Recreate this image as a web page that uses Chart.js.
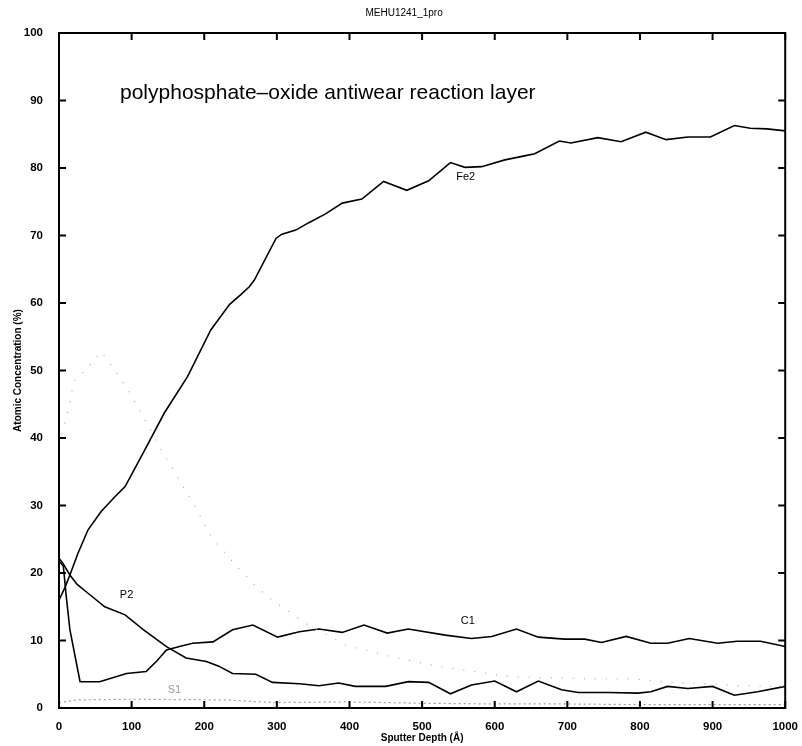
<!DOCTYPE html>
<html>
<head>
<meta charset="utf-8">
<script src="https://cdn.jsdelivr.net/npm/chart.js@4.4.1/dist/chart.umd.min.js"></script>
<style>
html,body{margin:0;padding:0;background:#fff;}
#wrap{width:802px;height:746px;position:relative;}
</style>
</head>
<body>
<div id="wrap"><canvas id="c" width="802" height="746"></canvas></div>
<script>
// ---- data ----
const chartTitle = "MEHU1241_1pro";
const annotationText = "polyphosphate\u2013oxide antiwear reaction layer";
const xTitle = "Sputter Depth (\u00c5)";
const yTitle = "Atomic Concentration (%)";
const xTickValues = [0,100,200,300,400,500,600,700,800,900,1000];
const yTickValues = [0,10,20,30,40,50,60,70,80,90,100];

const fe2Depth = [0,8,15,26,40,58,77,91,118,145,177,209,235,250,262,269,299,307,326,344,367,390,417,447,479,509,539,559,582,614,641,655,689,705,742,774,808,836,866,897,930,952,975,1000];
const fe2Values = [16,17.8,19.7,22.9,26.4,29.1,31.3,32.8,38.2,43.7,49.1,56,59.8,61.2,62.4,63.4,69.6,70.2,70.8,71.9,73.2,74.8,75.4,78,76.7,78.1,80.8,80.1,80.2,81.2,81.8,82.1,84,83.7,84.5,83.9,85.3,84.2,84.6,84.6,86.3,85.9,85.8,85.5];

const c1Depth = [0,6,10,15,29,56,93,120,135,148,166,184,212,239,267,301,331,358,390,420,452,481,532,568,596,630,660,696,724,747,781,815,838,868,907,934,966,1000];
const c1Values = [21.8,21,16.5,11.6,3.9,3.9,5.1,5.4,7,8.6,9.1,9.6,9.8,11.6,12.3,10.5,11.3,11.7,11.2,12.3,11.1,11.7,10.8,10.3,10.6,11.7,10.5,10.2,10.2,9.7,10.6,9.6,9.6,10.3,9.6,9.9,9.9,9.1];

const p2Depth = [0,5,15,25,40,63,91,116,148,175,203,220,239,271,294,331,358,385,408,450,481,509,539,568,600,630,660,692,715,756,797,815,838,866,900,930,962,1000];
const p2Values = [22.2,21.5,19.7,18.3,17,15,13.8,11.6,9.1,7.4,6.9,6.2,5.1,5.0,3.8,3.6,3.3,3.7,3.2,3.2,3.9,3.8,2.1,3.4,4.0,2.4,4.0,2.7,2.3,2.3,2.2,2.4,3.2,2.9,3.2,1.9,2.4,3.2];

const o1Depth = [0,7,13,17,20,40,58,65,90,116,143,152,175,184,207,215,250,267,287,340,395,420,458,520,591,614,660,742,788,856,893,938,1000];
const o1Values = [39,41.7,44.4,46.4,48.3,50.5,52.8,51.8,48,43.2,37.7,36.3,32,30.6,25.9,24.6,20.4,18.5,16.5,12.5,9.3,8.6,7.6,6.2,5.1,4.7,4.5,4.3,4.3,3.7,3.6,3.3,3.2];

const s1Depth = [0,25,100,230,260,300,400,500,600,700,800,900,1000];
const s1Values = [0.8,1.2,1.3,1.2,1.0,0.8,0.9,0.7,0.6,0.6,0.5,0.5,0.5];

// series labels placed in data space
const seriesLabels = [
  {text:"Fe2", x:560, y:78.6},
  {text:"P2",  x:93,  y:16.8},
  {text:"C1",  x:563, y:12.9},
  {text:"S1",  x:159, y:2.6, gray:true}
];

function pts(xs, ys){ return xs.map((x,i)=>({x:x, y:ys[i]})); }

const TICK_FONT = {family:"'Liberation Sans', Arial, sans-serif", size:11.5, weight:'bold'};

const framePlugin = {
  id:'frame',
  afterDraw(chart){
    const ctx = chart.ctx, a = chart.chartArea;
    const xs = chart.scales.x, ys = chart.scales.y;
    ctx.save();
    ctx.strokeStyle = '#000';
    ctx.lineWidth = 2;
    ctx.strokeRect(a.left, a.top, a.right - a.left, a.bottom - a.top);
    const tl = 7;
    ctx.beginPath();
    xTickValues.forEach(v=>{
      const px = xs.getPixelForValue(v);
      ctx.moveTo(px, a.bottom); ctx.lineTo(px, a.bottom - tl);
      ctx.moveTo(px, a.top); ctx.lineTo(px, a.top + tl);
    });
    yTickValues.forEach(v=>{
      const py = ys.getPixelForValue(v);
      ctx.moveTo(a.left, py); ctx.lineTo(a.left + tl, py);
      ctx.moveTo(a.right, py); ctx.lineTo(a.right - tl, py);
    });
    ctx.stroke();

    // chart title
    ctx.fillStyle = '#000';
    ctx.font = "10px 'Liberation Sans', Arial, sans-serif";
    ctx.textAlign = 'center';
    ctx.textBaseline = 'middle';
    ctx.fillText(chartTitle, (a.left + a.right)/2 - 18, 13);

    // annotation
    ctx.font = "21px 'Liberation Sans', Arial, sans-serif";
    ctx.textAlign = 'left';
    ctx.fillText(annotationText, xs.getPixelForValue(84), ys.getPixelForValue(91.1));

    // series labels
    ctx.font = "11px 'Liberation Sans', Arial, sans-serif";
    ctx.textAlign = 'center';
    seriesLabels.forEach(l=>{
      ctx.fillStyle = l.gray ? '#999' : '#000';
      ctx.fillText(l.text, xs.getPixelForValue(l.x), ys.getPixelForValue(l.y));
    });
    ctx.restore();
  }
};

const black = {borderColor:'#000', borderWidth:1.6, pointRadius:0, tension:0, fill:false};

new Chart(document.getElementById('c'), {
  type:'line',
  data:{
    datasets:[
      Object.assign({label:'O1', data:pts(o1Depth,o1Values)}, {borderColor:'#a8a8a8', borderWidth:1.2, borderDash:[1,10], pointRadius:0, tension:0, fill:false}),
      Object.assign({label:'S1', data:pts(s1Depth,s1Values)}, {borderColor:'#a0a0a0', borderWidth:1.2, borderDash:[2,3], pointRadius:0, tension:0, fill:false}),
      Object.assign({label:'Fe2', data:pts(fe2Depth,fe2Values)}, black),
      Object.assign({label:'C1', data:pts(c1Depth,c1Values)}, black),
      Object.assign({label:'P2', data:pts(p2Depth,p2Values)}, black)
    ]
  },
  options:{
    responsive:false,
    animation:false,
    layout:{padding:{top:33, right:15, left:0, bottom:0}},
    plugins:{legend:{display:false}, title:{display:false}, tooltip:{enabled:false}},
    scales:{
      x:{
        type:'linear', min:0, max:1000,
        afterFit(s){ s.height = 38; },
        afterBuildTicks(s){ s.ticks = xTickValues.map(v=>({value:v})); },
        grid:{display:false}, border:{display:false},
        ticks:{color:'#000', font:TICK_FONT, padding:4, maxRotation:0, callback:(v)=>String(v)},
        title:{display:true, text:xTitle, color:'#000', font:{family:"'Liberation Sans', Arial, sans-serif", size:10, weight:'bold'}, padding:{top:0,bottom:2}}
      },
      y:{
        min:0, max:100,
        afterFit(s){ s.width = 59; },
        afterBuildTicks(s){ s.ticks = yTickValues.map(v=>({value:v})); },
        grid:{display:false}, border:{display:false},
        ticks:{color:'#000', font:TICK_FONT, padding:8, callback:(v)=>String(v)},
        title:{display:true, text:yTitle, color:'#000', font:{family:"'Liberation Sans', Arial, sans-serif", size:10, weight:'bold'}, padding:{top:12,bottom:0}}
      }
    }
  },
  plugins:[framePlugin]
});
</script>
</body>
</html>
